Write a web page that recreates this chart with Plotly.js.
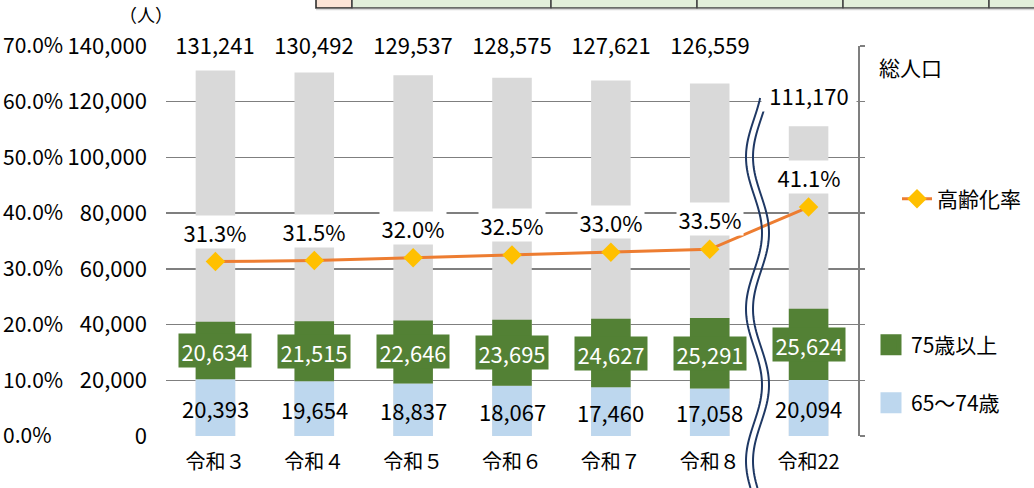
<!DOCTYPE html>
<html>
<head>
<meta charset="utf-8">
<script src="https://cdn.plot.ly/plotly-3.0.1.min.js"></script>
<style>html,body{margin:0;padding:0;background:#fff;}#chart{width:1034px;height:488px;}</style>
</head>
<body>
<div id="chart"></div>
<script>
// ---- data ----
const categories = ['令和３','令和４','令和５','令和６','令和７','令和８','令和22'];
const totalPop   = [131241,130492,129537,128575,127621,126559,111170];
const age75plus  = [20634,21515,22646,23695,24627,25291,25624];
const age65to74  = [20393,19654,18837,18067,17460,17058,20094];
const agingRate  = [31.3,31.5,32.0,32.5,33.0,33.5,41.1];
const popTicks   = [0,20000,40000,60000,80000,100000,120000,140000];
const rateTicks  = [0,0.1,0.2,0.3,0.4,0.5,0.6,0.7];

// ---- helpers (pixel -> paper) ----
const W = 1034, H = 488;
const px = x => x / W;
const py = y => 1 - y / H;
const FONT = '"Noto Sans CJK JP", "Noto Sans", sans-serif';
const fmt = v => v.toLocaleString('en-US');

const grey = '#D9D9D9', blue = '#BDD7EE', green = '#538135', orange = '#ED7D31', gold = '#FFC000';
const NUM = 22;

const traces = [
  {type:'bar', x:categories, y:totalPop, width:0.4, marker:{color:grey}, showlegend:false, hoverinfo:'skip'},
  {type:'bar', x:categories, y:age65to74, width:0.4, marker:{color:blue}, name:'65～74歳', showlegend:false},
  {type:'bar', x:categories, y:age75plus, base:age65to74, width:0.4, marker:{color:green}, name:'75歳以上', showlegend:false},
  {type:'scatter', mode:'lines+markers', x:categories, y:agingRate.map(v=>v/100), yaxis:'y2',
   line:{color:orange, width:3}, marker:{symbol:'diamond', size:15, color:gold}, name:'高齢化率', legend:'legend2'},
  {type:'scatter', mode:'none', x:[null], y:[null], name:'総人口', legend:'legend', hoverinfo:'skip'},
  // legend entries for the stacked segments
  {type:'scatter', mode:'markers', x:[null], y:[null], name:'75歳以上', legend:'legend3',
   marker:{symbol:'square', size:22, color:green, line:{color:green, width:5}}},
  {type:'scatter', mode:'markers', x:[null], y:[null], name:'65～74歳', legend:'legend4',
   marker:{symbol:'square', size:22, color:blue, line:{color:blue, width:5}}}
];

const annotations = [];
categories.forEach((c,i)=>{
  const last = i === categories.length - 1;
  annotations.push({x:c, y: last ? totalPop[i] : popTicks[popTicks.length-1], yref:'y', xref:'x',
    yshift: last ? 31 : 2, text: fmt(totalPop[i]), showarrow:false, bgcolor:'#ffffff',
    width:92, height:30, font:{family:FONT, size:NUM, color:'#000'}});
  annotations.push({x:c, y:agingRate[i]/100, yref:'y2', xref:'x', yshift:30,
    text: agingRate[i].toFixed(1)+'%', showarrow:false, bgcolor:'#ffffff',
    width:64, height:30, font:{family:FONT, size:NUM, color:'#000'}});
  annotations.push({x:c, y:age65to74[i] + age75plus[i]/2, yref:'y', xref:'x',
    text: fmt(age75plus[i]), showarrow:false, bgcolor:green,
    width:70, height:31, font:{family:FONT, size:NUM, color:'#ffffff'}});
  annotations.push({x:c, y:age65to74[i]/2, yref:'y', xref:'x',
    text: fmt(age65to74[i]), showarrow:false,
    font:{family:FONT, size:NUM, color:'#000'}});
});
annotations.push({xref:'paper', yref:'paper', x:px(146), y:py(14), text:'（人）', showarrow:false,
  xanchor:'center', yanchor:'middle', font:{family:FONT, size:18, color:'#000'}});

// ---- decorative shapes ----
const shapes = [];
shapes.push({type:'rect', xref:'paper', yref:'paper', x0:px(316), x1:px(352), y0:py(8), y1:py(-2), fillcolor:'#FCE4D6', line:{color:'#222', width:1.5}, layer:'above'});
const cellEdges = [352,551,697,843,989,1040];
for (let k=0;k<cellEdges.length-1;k++){
  shapes.push({type:'rect', xref:'paper', yref:'paper', x0:px(cellEdges[k]), x1:px(cellEdges[k+1]), y0:py(8), y1:py(-2), fillcolor:'#E2EFDA', line:{color:'#444', width:1.5}, layer:'above'});
}
shapes.push({type:'line', xref:'paper', yref:'paper', x0:px(316), x1:px(1034), y0:py(9.5), y1:py(9.5), line:{color:'#d8d8d8', width:1.5}});
[-3.5, 3.5].forEach(off=>{
  let d = '';
  for (let y=98; y<=490; y+=3){
    const x = 757.5 + off + 8*Math.cos(2*Math.PI*(y-233)/152);
    d += (d ? ' L ' : 'M ') + px(x).toFixed(5) + ',' + py(y).toFixed(5);
  }
  shapes.push({type:'path', xref:'paper', yref:'paper', path:d, line:{color:'#1F3864', width:2}, layer:'above'});
});

const plotTop = 46, plotBottom = 436, plotLeft = 166, plotRight = 858;

const layout = {
  width:W, height:H,
  margin:{l:0, r:0, t:0, b:0},
  paper_bgcolor:'#fff', plot_bgcolor:'rgba(0,0,0,0)',
  barmode:'overlay',
  font:{family:FONT, size:20, color:'#000'},
  xaxis:{domain:[px(plotLeft), px(plotRight)], type:'category', showgrid:false, zeroline:false, showline:false,
    ticks:'', ticklabelstandoff:12, tickfont:{family:FONT, size:20, color:'#000'}, fixedrange:true},
  yaxis:{domain:[py(plotBottom), py(plotTop)], range:[0,140000], tickvals:popTicks, ticktext:popTicks.map(fmt),
    showgrid:true, gridcolor:'#7f7f7f', gridwidth:1.5, zeroline:false, showline:false, ticks:'',
    ticklabelstandoff:18, tickfont:{family:FONT, size:NUM, color:'#000'}},
  yaxis2:{overlaying:'y', side:'right', anchor:'free', position:0, range:[0,0.7], tickvals:rateTicks,
    tickformat:'.1%', showgrid:false, zeroline:false, showline:false, ticks:'', ticklabelstandoff:2,
    tickfont:{family:FONT, size:21, color:'#000'}},
  yaxis3:{overlaying:'y', side:'right', anchor:'x', range:[0,140000], tickvals:popTicks, showticklabels:false,
    showgrid:false, zeroline:false, showline:true, linecolor:'#7f7f7f', linewidth:1.5,
    ticks:'outside', ticklen:5, tickcolor:'#7f7f7f', tickwidth:1.5},
  legend:{x:px(839), y:py(68), xanchor:'left', yanchor:'middle', bgcolor:'rgba(0,0,0,0)', font:{family:FONT, size:21}},
  legend2:{x:px(897), y:py(199), xanchor:'left', yanchor:'middle', bgcolor:'rgba(0,0,0,0)', font:{family:FONT, size:21}},
  legend3:{x:px(871), y:py(345), xanchor:'left', yanchor:'middle', bgcolor:'rgba(0,0,0,0)', font:{family:FONT, size:21}},
  legend4:{x:px(871), y:py(403), xanchor:'left', yanchor:'middle', bgcolor:'rgba(0,0,0,0)', font:{family:FONT, size:21}},
  annotations, shapes
};
traces.push({type:'scatter', mode:'none', x:[categories[0]], y:[null], yaxis:'y3', showlegend:false, hoverinfo:'skip'});

Plotly.newPlot('chart', traces, layout, {displayModeBar:false, staticPlot:true});
</script>
</body>
</html>
